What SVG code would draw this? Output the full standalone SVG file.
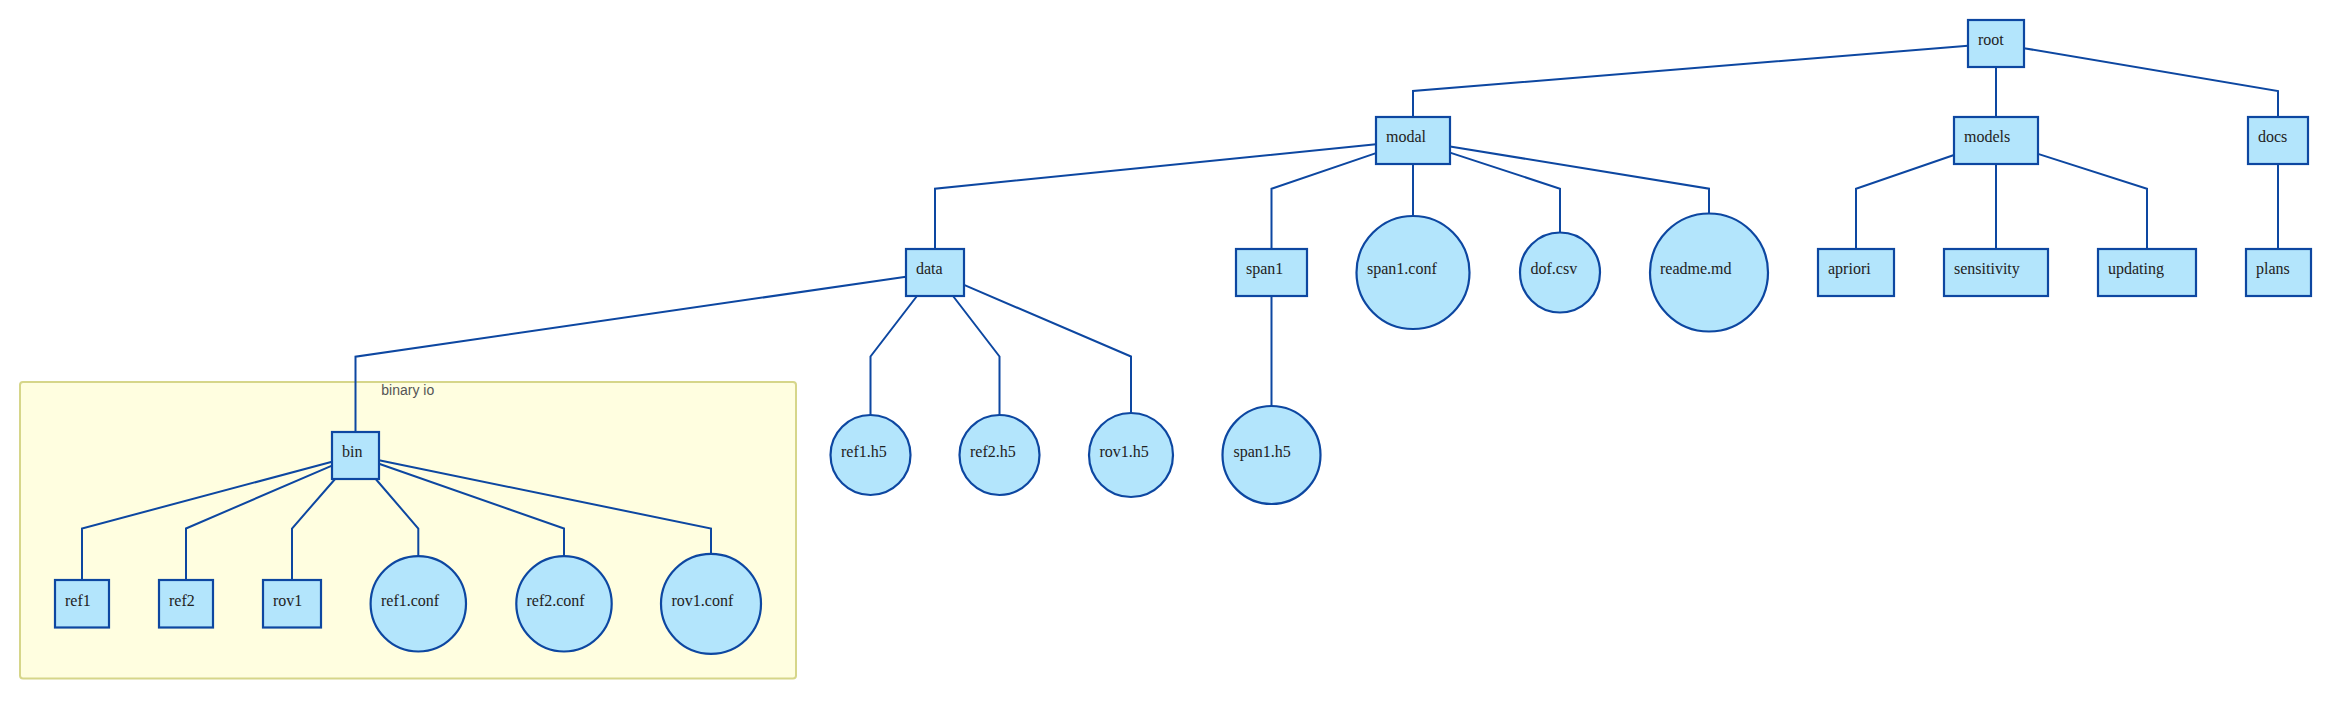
<svg xmlns="http://www.w3.org/2000/svg" width="2351" height="719" viewBox="0 0 2351 719">
<style>
.n rect, .n circle { fill: #b3e5fc; stroke: #0d47a1; stroke-width: 2.2; }
.n text { font-family: "Liberation Serif", "Times New Roman", serif; font-size: 16px; fill: #222; }
.e path { fill: none; stroke: #0d47a1; stroke-width: 2; }
.cl { fill: #fffee0; stroke: #d6d68a; stroke-width: 2; }
.cl-label { font-family: "Liberation Sans", Arial, sans-serif; font-size: 14px; fill: #555; }
</style>
<rect width="2351" height="719" fill="#ffffff"/>
<g id="cluster-binary-io">
  <rect class="cl" x="20" y="382" width="776" height="296.5" rx="3"/>
  <text class="cl-label" x="381.3" y="395.3">binary io</text>
</g>
<g id="connectors" class="e">
  <path d="M1968,45.8 L1413,91 L1413,117"/>
  <path d="M1996,67 L1996,117"/>
  <path d="M2024,48.2 L2278,91 L2278,117"/>
  <path d="M1376,144.2 L935,188.7 L935,249"/>
  <path d="M1376,153.1 L1271.5,188.7 L1271.5,249"/>
  <path d="M1413,164 L1413,216"/>
  <path d="M1450,152.6 L1560,188.7 L1560,232.5"/>
  <path d="M1450,146.5 L1709,188.7 L1709,213.5"/>
  <path d="M1954,155 L1856,188.7 L1856,249"/>
  <path d="M1996,164 L1996,249"/>
  <path d="M2038,153.9 L2147,188.7 L2147,249"/>
  <path d="M2278,164 L2278,249"/>
  <path d="M906,276.7 L355.5,356.7 L355.5,432"/>
  <path d="M917,296 L870.5,356.5 L870.5,415"/>
  <path d="M953,296 L999.5,356.5 L999.5,415"/>
  <path d="M964,284.9 L1131,356.5 L1131,413"/>
  <path d="M1271.5,296 L1271.5,406"/>
  <path d="M332,461.8 L82,528.5 L82,580"/>
  <path d="M332,465.6 L186,528.5 L186,580"/>
  <path d="M335.1,479 L292,528.5 L292,580"/>
  <path d="M375.7,479 L418.3,528.5 L418.3,556"/>
  <path d="M379,463.7 L564,528.5 L564,556"/>
  <path d="M379,460.3 L711,528.5 L711,554"/>
</g>
<g id="root" class="n"><rect x="1968" y="20" width="56" height="47"/><text x="1978" y="45">root</text></g>
<g id="modal" class="n"><rect x="1376" y="117" width="74" height="47"/><text x="1386" y="142">modal</text></g>
<g id="models" class="n"><rect x="1954" y="117" width="84" height="47"/><text x="1964" y="142">models</text></g>
<g id="docs" class="n"><rect x="2248" y="117" width="60" height="47"/><text x="2258" y="142">docs</text></g>
<g id="data" class="n"><rect x="906" y="249" width="58" height="47"/><text x="916" y="274">data</text></g>
<g id="span1" class="n"><rect x="1236" y="249" width="71" height="47"/><text x="1246" y="274">span1</text></g>
<g id="span1-conf" class="n"><circle cx="1413" cy="272.5" r="56.5"/><text x="1367" y="274">span1.conf</text></g>
<g id="dof-csv" class="n"><circle cx="1560" cy="272.5" r="40"/><text x="1530.5" y="274">dof.csv</text></g>
<g id="readme-md" class="n"><circle cx="1709" cy="272.5" r="59"/><text x="1660" y="274">readme.md</text></g>
<g id="apriori" class="n"><rect x="1818" y="249" width="76" height="47"/><text x="1828" y="274">apriori</text></g>
<g id="sensitivity" class="n"><rect x="1944" y="249" width="104" height="47"/><text x="1954" y="274">sensitivity</text></g>
<g id="updating" class="n"><rect x="2098" y="249" width="98" height="47"/><text x="2108" y="274">updating</text></g>
<g id="plans" class="n"><rect x="2246" y="249" width="65" height="47"/><text x="2256" y="274">plans</text></g>
<g id="ref1-h5" class="n"><circle cx="870.5" cy="455" r="40"/><text x="841" y="456.5">ref1.h5</text></g>
<g id="ref2-h5" class="n"><circle cx="999.5" cy="455" r="40"/><text x="970" y="456.5">ref2.h5</text></g>
<g id="rov1-h5" class="n"><circle cx="1131" cy="455" r="42"/><text x="1099.5" y="456.5">rov1.h5</text></g>
<g id="span1-h5" class="n"><circle cx="1271.5" cy="455" r="49"/><text x="1233.5" y="456.5">span1.h5</text></g>
<g id="bin" class="n"><rect x="332" y="432" width="47" height="47"/><text x="342" y="457">bin</text></g>
<g id="ref1" class="n"><rect x="55" y="580" width="54" height="47.5"/><text x="65" y="605.5">ref1</text></g>
<g id="ref2" class="n"><rect x="159" y="580" width="54" height="47.5"/><text x="169" y="605.5">ref2</text></g>
<g id="rov1" class="n"><rect x="263" y="580" width="58" height="47.5"/><text x="273" y="605.5">rov1</text></g>
<g id="ref1-conf" class="n"><circle cx="418.3" cy="603.8" r="47.7"/><text x="381" y="605.5">ref1.conf</text></g>
<g id="ref2-conf" class="n"><circle cx="564" cy="603.8" r="47.7"/><text x="526.5" y="605.5">ref2.conf</text></g>
<g id="rov1-conf" class="n"><circle cx="711" cy="603.8" r="50"/><text x="671.5" y="605.5">rov1.conf</text></g>
</svg>
